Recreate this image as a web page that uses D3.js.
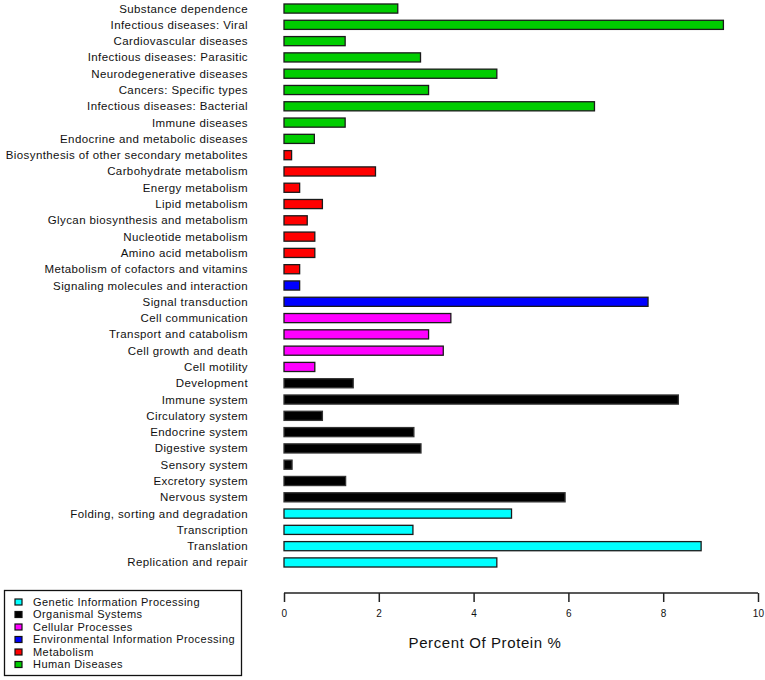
<!DOCTYPE html>
<html><head><meta charset="utf-8">
<script src="https://cdn.jsdelivr.net/npm/d3@7"></script>
<style>body{margin:0;background:#fff;} svg{display:block;font-family:"Liberation Sans",Arial,sans-serif;}</style>
</head><body>
<svg id="chart" width="765" height="680"></svg>
<script>
const categories = ["Substance dependence","Infectious diseases: Viral","Cardiovascular diseases","Infectious diseases: Parasitic","Neurodegenerative diseases","Cancers: Specific types","Infectious diseases: Bacterial","Immune diseases","Endocrine and metabolic diseases","Biosynthesis of other secondary metabolites","Carbohydrate metabolism","Energy metabolism","Lipid metabolism","Glycan biosynthesis and metabolism","Nucleotide metabolism","Amino acid metabolism","Metabolism of cofactors and vitamins","Signaling molecules and interaction","Signal transduction","Cell communication","Transport and catabolism","Cell growth and death","Cell motility","Development","Immune system","Circulatory system","Endocrine system","Digestive system","Sensory system","Excretory system","Nervous system","Folding, sorting and degradation","Transcription","Translation","Replication and repair"];
const values = [2.40,9.27,1.29,2.88,4.49,3.05,6.55,1.29,0.64,0.16,1.93,0.33,0.81,0.49,0.65,0.65,0.33,0.33,7.68,3.52,3.05,3.36,0.65,1.46,8.32,0.81,2.74,2.89,0.17,1.30,5.93,4.80,2.72,8.80,4.49];
const groups = ["Human Diseases","Human Diseases","Human Diseases","Human Diseases","Human Diseases","Human Diseases","Human Diseases","Human Diseases","Human Diseases","Metabolism","Metabolism","Metabolism","Metabolism","Metabolism","Metabolism","Metabolism","Metabolism","Environmental Information Processing","Environmental Information Processing","Cellular Processes","Cellular Processes","Cellular Processes","Cellular Processes","Organismal Systems","Organismal Systems","Organismal Systems","Organismal Systems","Organismal Systems","Organismal Systems","Organismal Systems","Organismal Systems","Genetic Information Processing","Genetic Information Processing","Genetic Information Processing","Genetic Information Processing"];
const legendLabels = ["Genetic Information Processing","Organismal Systems","Cellular Processes","Environmental Information Processing","Metabolism","Human Diseases"];
const legendColors = ["#00FFFF","#000000","#FF00FF","#0000FF","#FF0000","#00CD00"];
const xTicks = [0,2,4,6,8,10];
const xTitle = "Percent Of Protein %";

const svg = d3.select("#chart");
const color = d3.scaleOrdinal().domain(legendLabels).range(legendColors);
const x = d3.scaleLinear().domain([0,10]).range([284,758]);
const y = d3.scaleBand().domain(categories).range([0.4,570.6]).paddingInner(0.44).paddingOuter(0.22);

svg.append("g").selectAll("rect").data(categories).join("rect")
  .attr("x", x(0))
  .attr("y", d => y(d))
  .attr("width", (d,i) => x(values[i]) - x(0))
  .attr("height", y.bandwidth())
  .attr("fill", (d,i) => color(groups[i]))
  .attr("stroke", (d,i) => groups[i]==="Organismal Systems" ? "#333" : "#1a1a1a")
  .attr("stroke-width", 1.3);

svg.append("g").selectAll("text").data(categories).join("text")
  .attr("x", 248)
  .attr("y", d => y(d) + y.bandwidth()/2)
  .attr("dy", "0.35em")
  .attr("text-anchor", "end")
  .attr("font-size", 11.5)
  .attr("letter-spacing", 0.4)
  .attr("fill", "#111")
  .text(d => d);

const axis = d3.axisBottom(x).tickValues(xTicks).tickSize(9).tickPadding(8).tickFormat(d3.format("d"));
const ax = svg.append("g").attr("transform","translate(0,593)").call(axis);
ax.select(".domain").attr("stroke","#222").attr("stroke-width",1.5).attr("d", `M${x(0)},0H${x(10)}`);
ax.selectAll(".tick line").attr("stroke","#222").attr("stroke-width",1.5);
ax.selectAll(".tick text").attr("font-size",10).attr("letter-spacing",0.3).attr("fill","#111").attr("font-family","Liberation Sans, Arial, sans-serif");

svg.append("text").attr("x",485).attr("y",648).attr("text-anchor","middle").attr("font-size",15).attr("letter-spacing",0.6).attr("fill","#111").text(xTitle);

const lg = svg.append("g");
lg.append("rect").attr("x",4.5).attr("y",590.5).attr("width",237).attr("height",85).attr("fill","none").attr("stroke","#111").attr("stroke-width",1.3);
legendLabels.forEach((l,i) => {
  const cy = 602 + i*12.5;
  lg.append("rect").attr("x",15).attr("y",cy-3).attr("width",7).attr("height",6).attr("fill",legendColors[i]).attr("stroke","#111").attr("stroke-width",1.2);
  lg.append("text").attr("x",33).attr("y",cy).attr("dy","0.35em").attr("font-size",11).attr("letter-spacing",0.45).attr("fill","#111").text(l);
});
</script>
</body></html>
